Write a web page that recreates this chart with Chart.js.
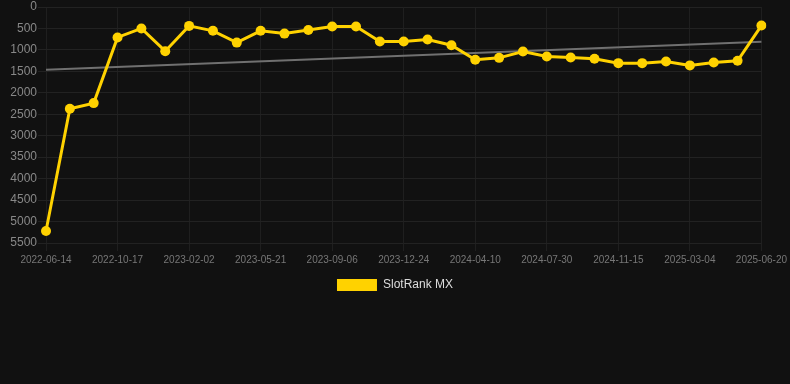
<!DOCTYPE html>
<html>
<head>
<meta charset="utf-8">
<script src="https://cdn.jsdelivr.net/npm/chart.js@4"></script>
<style>
  html,body{margin:0;padding:0;background:#111111;}
  #wrap{width:790px;height:301px;}
</style>
</head>
<body>
<div id="wrap"><canvas id="rankChart"></canvas></div>
<script>
// --- Data ---
const dates = [
  '2022-06-14','2022-07-26','2022-09-05','2022-10-17','2022-11-22','2022-12-28',
  '2023-02-02','2023-03-11','2023-04-15','2023-05-21','2023-06-29','2023-08-01',
  '2023-09-06','2023-10-12','2023-11-18','2023-12-24','2024-01-29','2024-03-05',
  '2024-04-10','2024-05-17','2024-06-23','2024-07-30','2024-09-05','2024-10-09',
  '2024-11-15','2024-12-21','2025-01-26','2025-03-04','2025-04-09','2025-05-15',
  '2025-06-20'
];
const rankMX = [
  5220, 2370, 2240, 710, 500, 1030, 440, 555, 830, 555, 620, 535,
  455, 455, 805, 805, 758, 890, 1230, 1185, 1037, 1152, 1175, 1207,
  1308, 1308, 1269, 1361, 1292, 1253, 433
];
// trend line: only the two end values, drawn straight between them
const trend = [1460].concat(new Array(29).fill(null), [810]);

// --- Chart ---
const ctx = document.getElementById('rankChart').getContext('2d');
new Chart(ctx, {
  type: 'line',
  data: {
    labels: dates,
    datasets: [{
      label: 'SlotRank MX',
      data: rankMX,
      borderColor: '#ffd200',
      backgroundColor: '#ffd200',
      borderWidth: 3,
      pointRadius: 5,
      pointBackgroundColor: '#ffd200',
      pointBorderWidth: 0,
      tension: 0
    }, {
      label: 'trend',
      data: trend,
      borderColor: '#707070',
      borderWidth: 2,
      pointRadius: 0,
      spanGaps: true
    }]
  },
  options: {
    responsive: true,
    maintainAspectRatio: false,
    animation: false,
    layout: {padding: {top: 0}},
    scales: {
      x: {
        grid: {color: '#1f1f1f'},
        border: {display: false},
        ticks: {
          autoSkip: false,
          maxRotation: 0,
          color: '#777777',
          font: {family: 'Liberation Sans', size: 10},
          callback: function(v, i) { return i % 3 === 0 ? this.getLabelForValue(v) : null; }
        }
      },
      y: {
        reverse: true,
        min: 0,
        max: 5500,
        afterFit: (s) => { s.width = 46; },
        grid: {color: '#222222'},
        border: {display: false},
        ticks: {
          stepSize: 500,
          padding: 1,
          color: '#888888',
          font: {family: 'Liberation Sans', size: 12, lineHeight: 1},
          callback: (v) => String(v)
        }
      }
    },
    plugins: {
      legend: {
        position: 'bottom',
        labels: {
          color: '#dddddd',
          font: {family: 'Liberation Sans', size: 12},
          boxWidth: 40,
          boxHeight: 12,
          filter: (item) => item.text !== 'trend',
          generateLabels: (chart) => Chart.defaults.plugins.legend.labels.generateLabels(chart)
            .map(l => Object.assign(l, {lineWidth: 0}))
        }
      },
      tooltip: {enabled: false}
    }
  }
});
</script>
</body>
</html>
